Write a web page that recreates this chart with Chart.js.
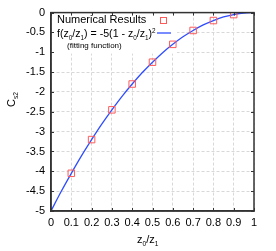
<!DOCTYPE html>
<html>
<head>
<meta charset="utf-8">
<script src="https://cdn.jsdelivr.net/npm/chart.js@4"></script>
<style>
  html, body { margin: 0; padding: 0; background: #fff; }
  #chart { display: block; }
</style>
</head>
<body>
<canvas id="chart" width="276" height="251"></canvas>
<script>
// numerical results
const zRatio = [0.1, 0.2, 0.3, 0.4, 0.5, 0.6, 0.7, 0.8, 0.9];
const cValues = [-4.05, -3.2, -2.45, -1.8, -1.25, -0.8, -0.45, -0.2, -0.05];

// fitting curve
const fitX = [0, 0.05, 0.1, 0.15, 0.2, 0.25, 0.3, 0.35, 0.4, 0.45, 0.5, 0.55, 0.6, 0.65, 0.7, 0.75, 0.8, 0.85, 0.9, 0.95, 1];
const fitY = [-5, -4.51, -4.05, -3.61, -3.2, -2.81, -2.45, -2.11, -1.8, -1.51, -1.25, -1.01, -0.8, -0.61, -0.45, -0.31, -0.2, -0.11, -0.05, -0.01, 0];

const xTicks = [0, 0.1, 0.2, 0.3, 0.4, 0.5, 0.6, 0.7, 0.8, 0.9, 1];
const xTickLabels = ["0", "0.1", "0.2", "0.3", "0.4", "0.5", "0.6", "0.7", "0.8", "0.9", "1"];
const yTicks = [-5, -4.5, -4, -3.5, -3, -2.5, -2, -1.5, -1, -0.5, 0];
const yTickLabels = ["-5", "-4.5", "-4", "-3.5", "-3", "-2.5", "-2", "-1.5", "-1", "-0.5", "0"];

const FONT = "'Liberation Sans', Arial, sans-serif";
const RED = "#ff5a5a";
const BLUE = "#2f4dff";

// draw text pieces with sub/superscripts
function drawRich(ctx, parts, x, y, size) {
    for (const p of parts) {
        const s = p.sub || p.sup ? size * 0.6 : size;
        const dy = p.sub ? size * 0.25 : (p.sup ? -size * 0.4 : 0);
        ctx.font = s + "px " + FONT;
        ctx.fillText(p.t, x, y + dy);
        x += ctx.measureText(p.t).width;
    }
}

const decorations = {
    id: "decorations",
    beforeDatasetsDraw(chart) {
        const ctx = chart.ctx;
        const a = chart.chartArea;
        // white legend box over the grid
        ctx.save();
        ctx.fillStyle = "#fff";
        ctx.fillRect(a.left + 1, a.top + 1, 125, 40);
        ctx.restore();
    },
    afterDraw(chart) {
        const ctx = chart.ctx;
        const a = chart.chartArea;
        const xs = chart.scales.x, ys = chart.scales.y;
        ctx.save();
        // frame
        ctx.strokeStyle = "#333";
        ctx.lineWidth = 1.5;
        ctx.strokeRect(a.left, a.top, a.right - a.left, a.bottom - a.top);
        // inward tick marks on all sides
        ctx.lineWidth = 1;
        ctx.beginPath();
        for (const v of xTicks) {
            const px = Math.round(xs.getPixelForValue(v)) + 0.5;
            ctx.moveTo(px, a.bottom); ctx.lineTo(px, a.bottom - 3);
            ctx.moveTo(px, a.top); ctx.lineTo(px, a.top + 3);
        }
        for (const v of yTicks) {
            const py = Math.round(ys.getPixelForValue(v)) + 0.5;
            ctx.moveTo(a.left, py); ctx.lineTo(a.left + 3, py);
            ctx.moveTo(a.right, py); ctx.lineTo(a.right - 3, py);
        }
        ctx.stroke();

        // legend
        ctx.fillStyle = "#000";
        ctx.textBaseline = "alphabetic";
        ctx.textAlign = "left";
        drawRich(ctx, [{ t: "Numerical Results" }], 57, 23, 11);
        drawRich(ctx, [
            { t: "f(z" }, { t: "0", sub: true }, { t: "/z" }, { t: "1", sub: true },
            { t: ") = -5(1 - z" }, { t: "0", sub: true }, { t: "/z" }, { t: "1", sub: true },
            { t: ")" }, { t: "2", sup: true }
        ], 57, 37, 10.6);
        drawRich(ctx, [{ t: "(fitting function)" }], 67, 48, 8);

        ctx.strokeStyle = RED;
        ctx.lineWidth = 1;
        ctx.strokeRect(160.5, 17.5, 6, 6);
        ctx.strokeStyle = BLUE;
        ctx.lineWidth = 1.3;
        ctx.beginPath();
        ctx.moveTo(157, 33); ctx.lineTo(171, 33);
        ctx.stroke();

        // axis titles
        ctx.fillStyle = "#000";
        drawRich(ctx, [{ t: "z" }, { t: "0", sub: true }, { t: "/z" }, { t: "1", sub: true }], 137, 243, 11);
        ctx.translate(15, 107);
        ctx.rotate(-Math.PI / 2);
        drawRich(ctx, [{ t: "C" }, { t: "s2", sub: true }], 0, 0, 11);
        ctx.restore();
    }
};

new Chart(document.getElementById("chart"), {
    type: "scatter",
    data: {
        datasets: [
            {
                label: "Numerical Results",
                data: zRatio.map((x, i) => ({ x: x, y: cValues[i] })),
                pointStyle: "rect",
                pointRadius: 4.6,
                pointHoverRadius: 4.6,
                borderColor: RED,
                backgroundColor: "rgba(0,0,0,0)",
                borderWidth: 1,
                order: 0
            },
            {
                type: "line",
                label: "fitting function",
                data: fitX.map((x, i) => ({ x: x, y: fitY[i] })),
                borderColor: BLUE,
                borderWidth: 1.3,
                pointRadius: 0,
                tension: 0.3,
                fill: false,
                order: 1
            }
        ]
    },
    options: {
        responsive: false,
        animation: false,
        events: [],
        layout: { padding: { top: 10, right: 22, left: 0, bottom: 0 } },
        plugins: {
            legend: { display: false },
            tooltip: { enabled: false }
        },
        scales: {
            x: {
                type: "linear",
                min: 0,
                max: 1,
                afterFit: (s) => { s.height = 40; },
                afterBuildTicks: (s) => { s.ticks = xTicks.map(v => ({ value: v })); },
                ticks: {
                    autoSkip: false,
                    maxRotation: 0,
                    padding: 5,
                    color: "#000",
                    font: { family: FONT, size: 11 },
                    callback: (v) => xTickLabels[xTicks.indexOf(v)]
                },
                grid: { color: "#d8d8d8", drawTicks: false },
                border: { color: "#333", width: 1.5, dash: [3, 2] }
            },
            y: {
                type: "linear",
                min: -5,
                max: 0,
                afterFit: (s) => { s.width = 51; },
                afterBuildTicks: (s) => { s.ticks = yTicks.map(v => ({ value: v })); },
                ticks: {
                    autoSkip: false,
                    padding: 6,
                    color: "#000",
                    font: { family: FONT, size: 11 },
                    callback: (v) => yTickLabels[yTicks.indexOf(v)]
                },
                grid: { color: "#d8d8d8", drawTicks: false },
                border: { color: "#333", width: 1.5, dash: [3, 2] }
            }
        }
    },
    plugins: [decorations]
});
</script>
</body>
</html>
